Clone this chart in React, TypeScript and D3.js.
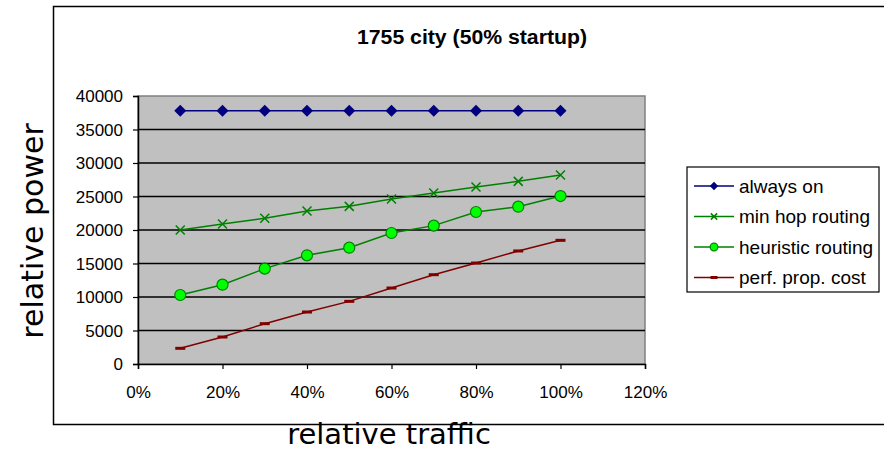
import { useRef, useEffect } from 'react'
import * as d3 from 'd3'

const traffic = [0.1, 0.2, 0.3, 0.4, 0.5, 0.6, 0.7, 0.8, 0.9, 1.0]
const alwaysOn = [37800, 37800, 37800, 37800, 37800, 37800, 37800, 37800, 37800, 37800]
const minHop = [20000, 20900, 21750, 22840, 23530, 24630, 25520, 26420, 27260, 28200]
const heuristic = [10300, 11840, 14230, 16220, 17360, 19550, 20650, 22690, 23480, 25070]
const perfProp = [2340, 4030, 6020, 7760, 9350, 11340, 13330, 15070, 16870, 18460]
const seriesNames = ['always on', 'min hop routing', 'heuristic routing', 'perf. prop. cost']
const yTicks = [0, 5000, 10000, 15000, 20000, 25000, 30000, 35000, 40000]
const xTicks = [0, 0.2, 0.4, 0.6, 0.8, 1.0, 1.2]

const W = 884
const H = 449

const App = () => {
	const svgRef = useRef<SVGSVGElement | null>(null)

	useEffect(() => {
		if (!svgRef.current) return
		const svg = d3.select(svgRef.current)
		svg.selectAll('*').remove()

		const plot = { left: 138, right: 645, top: 96, bottom: 364 }
		const x = d3.scaleLinear().domain([0, 1.2]).range([plot.left, plot.right])
		const y = d3.scaleLinear().domain([0, 40000]).range([plot.bottom, plot.top])

		svg.append('rect').attr('width', W).attr('height', H).attr('fill', '#fff')

		// outer chart frame (no right edge visible)
		svg
			.append('path')
			.attr('d', `M${W + 2},6.5 H53.5 V424.5 H${W + 2}`)
			.attr('fill', 'none')
			.attr('stroke', '#000')
			.attr('stroke-width', 1.5)

		svg
			.append('text')
			.attr('x', 472)
			.attr('y', 44)
			.attr('text-anchor', 'middle')
			.attr('font-family', 'Liberation Sans, Arial, sans-serif')
			.attr('font-weight', 'bold')
			.attr('font-size', 20)
			.attr('textLength', 230)
			.attr('lengthAdjust', 'spacingAndGlyphs')
			.text('1755 city (50% startup)')

		// plot area
		svg
			.append('rect')
			.attr('x', plot.left)
			.attr('y', plot.top)
			.attr('width', plot.right - plot.left)
			.attr('height', plot.bottom - plot.top)
			.attr('fill', '#c0c0c0')
			.attr('stroke', '#808080')
			.attr('stroke-width', 1.5)

		// gridlines
		svg
			.append('g')
			.selectAll('line')
			.data(yTicks.filter((t) => t > 0 && t < 40000))
			.enter()
			.append('line')
			.attr('x1', plot.left)
			.attr('x2', plot.right)
			.attr('y1', (d) => y(d))
			.attr('y2', (d) => y(d))
			.attr('stroke', '#000')
			.attr('stroke-width', 1.5)

		// axes
		const yAxis = svg
			.append('g')
			.attr('transform', `translate(${plot.left},0)`)
			.call(d3.axisLeft(y).tickValues(yTicks).tickSize(5).tickPadding(10).tickFormat((d) => String(d)))
		const xAxis = svg
			.append('g')
			.attr('transform', `translate(0,${plot.bottom})`)
			.call(
				d3
					.axisBottom(x)
					.tickValues(xTicks)
					.tickSize(5)
					.tickPadding(17)
					.tickFormat((d) => `${Math.round(+d * 100)}%`)
			)
		for (const ax of [xAxis, yAxis]) {
			ax.select('.domain').attr('stroke', '#000').attr('stroke-width', 1.5)
			ax.selectAll('.tick line').attr('stroke', '#000').attr('stroke-width', 1.2)
			ax.selectAll('.tick text')
				.attr('fill', '#000')
				.attr('font-family', 'Liberation Sans, Arial, sans-serif')
				.attr('font-size', 17)
		}
		yAxis.selectAll('.tick text').attr('dy', '0.35em')

		const series = [
			{ name: seriesNames[0], values: alwaysOn, color: '#000080', marker: 'diamond' },
			{ name: seriesNames[1], values: minHop, color: '#008000', marker: 'x' },
			{ name: seriesNames[2], values: heuristic, color: '#008000', marker: 'circle' },
			{ name: seriesNames[3], values: perfProp, color: '#800000', marker: 'dash' },
		]

		const drawMarker = (
			g: d3.Selection<SVGGElement, unknown, null, undefined>,
			kind: string,
			cx: number,
			cy: number,
			color: string,
			scale = 1
		) => {
			if (kind === 'diamond') {
				const r = 6 * scale
				g.append('path')
					.attr('d', `M${cx},${cy - r} L${cx + r},${cy} L${cx},${cy + r} L${cx - r},${cy} Z`)
					.attr('fill', color)
			} else if (kind === 'x') {
				const r = 4.5 * scale
				g.append('path')
					.attr('d', `M${cx - r},${cy - r} L${cx + r},${cy + r} M${cx - r},${cy + r} L${cx + r},${cy - r}`)
					.attr('stroke', color)
					.attr('stroke-width', 1.5)
			} else if (kind === 'circle') {
				g.append('circle')
					.attr('cx', cx)
					.attr('cy', cy)
					.attr('r', 5.5 * scale)
					.attr('fill', '#00ff00')
					.attr('stroke', color)
					.attr('stroke-width', 1.2)
			} else {
				g.append('rect')
					.attr('x', cx - 5 * scale)
					.attr('y', cy - 1.5)
					.attr('width', 10 * scale)
					.attr('height', 3)
					.attr('fill', color)
			}
		}

		const line = d3
			.line<number>()
			.x((_, i) => x(traffic[i]))
			.y((d) => y(d))

		for (const s of series) {
			const g = svg.append('g')
			g.append('path')
				.attr('d', line(s.values))
				.attr('fill', 'none')
				.attr('stroke', s.color)
				.attr('stroke-width', 1.5)
			s.values.forEach((v, i) => drawMarker(g, s.marker, x(traffic[i]), y(v), s.color))
		}

		// legend
		const legend = svg.append('g')
		legend
			.append('rect')
			.attr('x', 687)
			.attr('y', 167)
			.attr('width', 192)
			.attr('height', 125)
			.attr('fill', '#fff')
			.attr('stroke', '#000')
			.attr('stroke-width', 1.2)
		series.forEach((s, i) => {
			const ly = 186 + i * 30.5
			const lg = legend.append('g')
			lg.append('line')
				.attr('x1', 694)
				.attr('x2', 734)
				.attr('y1', ly)
				.attr('y2', ly)
				.attr('stroke', s.color)
				.attr('stroke-width', 1.5)
			drawMarker(lg, s.marker, 714, ly, s.color, 0.7)
			lg.append('text')
				.attr('x', 739)
				.attr('y', ly)
				.attr('dy', '0.35em')
				.attr('font-family', 'Liberation Sans, Arial, sans-serif')
				.attr('font-size', 19)
				.text(s.name)
		})

		// axis titles
		svg
			.append('text')
			.attr('x', 389)
			.attr('y', 444)
			.attr('text-anchor', 'middle')
			.attr('font-family', 'DejaVu Sans, Verdana, sans-serif')
			.attr('font-size', 29)
			.text('relative traffic')
		svg
			.append('text')
			.attr('transform', 'translate(43,231) rotate(-90)')
			.attr('text-anchor', 'middle')
			.attr('font-family', 'DejaVu Sans, Verdana, sans-serif')
			.attr('font-size', 30)
			.text('relative power')
	}, [])

	return (
		<svg
			ref={svgRef}
			width={W}
			height={H}
			style={{ position: 'absolute', left: 0, top: 0, display: 'block' }}
		></svg>
	)
}

export default App
